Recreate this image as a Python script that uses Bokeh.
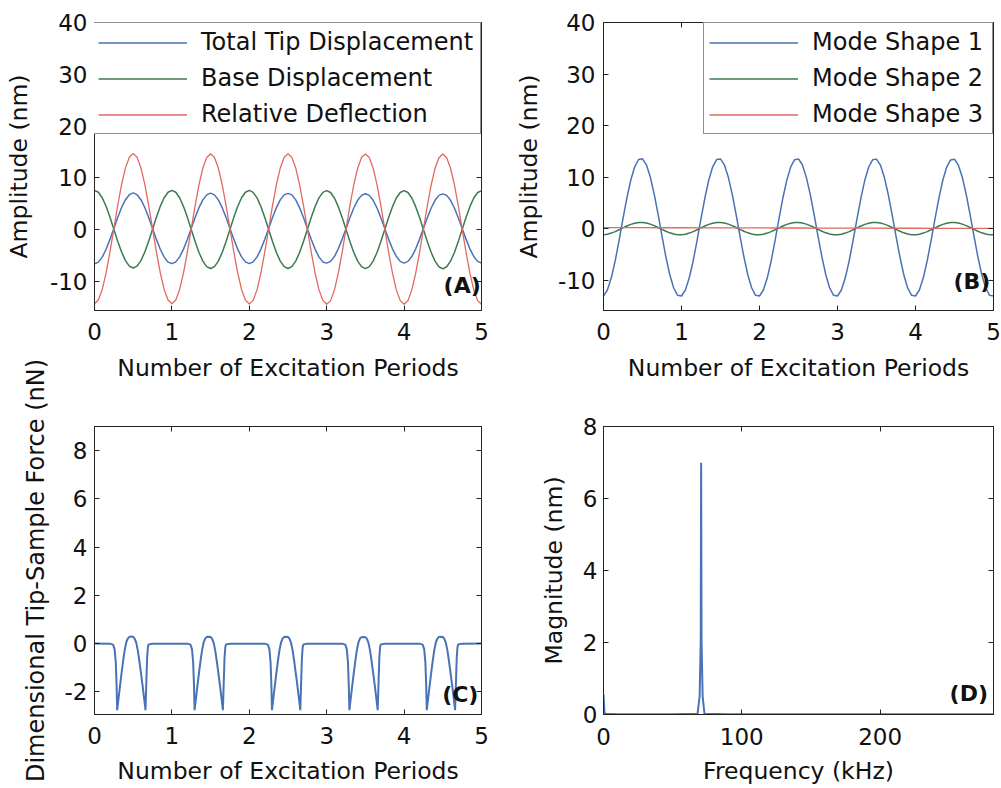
from bokeh.plotting import figure
from bokeh.models import Range1d, LinearAxis, FixedTicker, Legend, LegendItem, Label
from bokeh.layouts import column, row
from bokeh.embed import file_html
from bokeh.resources import INLINE

# ---------------- data ----------------
t_ab = [0.00, 0.05, 0.10, 0.15, 0.20, 0.25, 0.30, 0.35, 0.40, 0.45, 0.50, 0.55, 0.60, 0.65, 0.70, 0.75, 0.80, 0.85, 0.90, 0.95,
        1.00, 1.05, 1.10, 1.15, 1.20, 1.25, 1.30, 1.35, 1.40, 1.45, 1.50, 1.55, 1.60, 1.65, 1.70, 1.75, 1.80, 1.85, 1.90, 1.95,
        2.00, 2.05, 2.10, 2.15, 2.20, 2.25, 2.30, 2.35, 2.40, 2.45, 2.50, 2.55, 2.60, 2.65, 2.70, 2.75, 2.80, 2.85, 2.90, 2.95,
        3.00, 3.05, 3.10, 3.15, 3.20, 3.25, 3.30, 3.35, 3.40, 3.45, 3.50, 3.55, 3.60, 3.65, 3.70, 3.75, 3.80, 3.85, 3.90, 3.95,
        4.00, 4.05, 4.10, 4.15, 4.20, 4.25, 4.30, 4.35, 4.40, 4.45, 4.50, 4.55, 4.60, 4.65, 4.70, 4.75, 4.80, 4.85, 4.90, 4.95,
        5.00]

a_total_tip = [
    -6.60, -6.26, -5.29, -3.78, -1.87, 0.25, 2.37, 4.28, 5.79, 6.76, 7.10, 6.76, 5.79, 4.28, 2.37, 0.25, -1.87, -3.78, -5.29, -6.26,
    -6.55, -6.22, -5.25, -3.75, -1.85, 0.25, 2.35, 4.25, 5.75, 6.72, 7.05, 6.72, 5.75, 4.25, 2.35, 0.25, -1.85, -3.75, -5.25, -6.22,
    -6.55, -6.22, -5.25, -3.75, -1.85, 0.25, 2.35, 4.25, 5.75, 6.72, 7.02, 6.72, 5.75, 4.25, 2.35, 0.25, -1.85, -3.75, -5.25, -6.22,
    -6.45, -6.12, -5.17, -3.69, -1.82, 0.25, 2.32, 4.19, 5.67, 6.62, 6.95, 6.62, 5.67, 4.19, 2.32, 0.25, -1.82, -3.69, -5.17, -6.12,
    -6.45, -6.12, -5.17, -3.69, -1.82, 0.25, 2.32, 4.19, 5.67, 6.62, 6.92, 6.62, 5.67, 4.19, 2.32, 0.25, -1.82, -3.69, -5.17, -6.12,
    -6.45]
a_base = [
    7.60, 7.23, 6.17, 4.51, 2.42, 0.10, -2.22, -4.31, -5.97, -7.03, -7.40, -7.03, -5.97, -4.31, -2.22, 0.10, 2.42, 4.51, 6.17, 7.23,
    7.60, 7.23, 6.16, 4.49, 2.38, 0.05, -2.28, -4.39, -6.06, -7.13, -7.50, -7.13, -6.06, -4.39, -2.28, 0.05, 2.38, 4.49, 6.16, 7.23,
    7.58, 7.21, 6.14, 4.47, 2.36, 0.05, -2.28, -4.39, -6.06, -7.13, -7.50, -7.13, -6.06, -4.39, -2.28, 0.05, 2.36, 4.47, 6.14, 7.21,
    7.55, 7.18, 6.12, 4.45, 2.35, 0.05, -2.28, -4.39, -6.06, -7.13, -7.52, -7.13, -6.06, -4.39, -2.28, 0.05, 2.35, 4.45, 6.12, 7.18,
    7.55, 7.18, 6.12, 4.45, 2.35, 0.05, -2.30, -4.41, -6.08, -7.15, -7.55, -7.15, -6.08, -4.41, -2.30, 0.05, 2.35, 4.45, 6.12, 7.18,
    7.50]
a_relative = [
    -14.30, -13.59, -11.53, -8.33, -4.28, 0.20, 4.68, 8.73, 11.93, 13.99, 14.70, 13.99, 11.93, 8.73, 4.68, 0.20, -4.28, -8.33, -11.53, -13.59,
    -14.30, -13.59, -11.53, -8.33, -4.28, 0.20, 4.66, 8.71, 11.90, 13.95, 14.65, 13.95, 11.90, 8.71, 4.66, 0.20, -4.28, -8.33, -11.53, -13.59,
    -14.35, -13.64, -11.57, -8.36, -4.30, 0.18, 4.66, 8.71, 11.90, 13.95, 14.65, 13.95, 11.90, 8.71, 4.66, 0.18, -4.30, -8.36, -11.57, -13.64,
    -14.40, -13.69, -11.62, -8.40, -4.35, 0.15, 4.64, 8.69, 11.88, 13.93, 14.62, 13.93, 11.88, 8.69, 4.64, 0.15, -4.35, -8.40, -11.62, -13.69,
    -14.40, -13.69, -11.62, -8.40, -4.35, 0.15, 4.62, 8.67, 11.86, 13.90, 14.60, 13.90, 11.86, 8.67, 4.62, 0.15, -4.35, -8.40, -11.62, -13.69,
    -14.40]

b_mode1 = [
    -12.99, -11.83, -9.47, -6.16, -2.21, 1.98, 6.01, 9.48, 12.04, 13.46, 13.59, 12.43, 10.07, 6.76, 2.81, -1.38, -5.41, -8.88, -11.44, -12.86,
    -12.99, -11.83, -9.47, -6.16, -2.21, 1.98, 6.01, 9.48, 12.04, 13.44, 13.57, 12.41, 10.05, 6.74, 2.80, -1.38, -5.41, -8.88, -11.44, -12.86,
    -12.99, -11.83, -9.47, -6.16, -2.21, 1.98, 6.00, 9.46, 12.02, 13.42, 13.55, 12.40, 10.04, 6.74, 2.80, -1.38, -5.41, -8.88, -11.44, -12.86,
    -12.99, -11.83, -9.47, -6.16, -2.21, 1.97, 5.99, 9.45, 12.00, 13.40, 13.53, 12.38, 10.03, 6.73, 2.79, -1.38, -5.41, -8.88, -11.44, -12.86,
    -12.99, -11.83, -9.47, -6.16, -2.21, 1.97, 5.99, 9.44, 11.99, 13.38, 13.51, 12.36, 10.02, 6.72, 2.79, -1.38, -5.41, -8.88, -11.44, -12.86,
    -12.99]
b_mode2 = [
    -1.12, -1.02, -0.80, -0.51, -0.15, 0.22, 0.58, 0.89, 1.12, 1.25, 1.26, 1.16, 0.94, 0.65, 0.29, -0.08, -0.44, -0.75, -0.98, -1.11,
    -1.12, -1.02, -0.80, -0.51, -0.15, 0.22, 0.58, 0.89, 1.12, 1.25, 1.26, 1.16, 0.94, 0.65, 0.29, -0.08, -0.44, -0.75, -0.98, -1.11,
    -1.12, -1.02, -0.80, -0.51, -0.15, 0.22, 0.58, 0.89, 1.12, 1.25, 1.26, 1.16, 0.94, 0.65, 0.29, -0.08, -0.44, -0.75, -0.98, -1.11,
    -1.12, -1.02, -0.80, -0.51, -0.15, 0.22, 0.58, 0.89, 1.12, 1.25, 1.26, 1.16, 0.94, 0.65, 0.29, -0.08, -0.44, -0.75, -0.98, -1.11,
    -1.12, -1.02, -0.80, -0.51, -0.15, 0.22, 0.58, 0.89, 1.12, 1.25, 1.26, 1.16, 0.94, 0.65, 0.29, -0.08, -0.44, -0.75, -0.98, -1.11,
    -1.12]
t_mode3 = [0.00, 0.25, 0.50, 0.75, 1.00, 1.25, 1.50, 1.75, 2.00, 2.25, 2.50, 2.75, 3.00, 3.25, 3.50, 3.75, 4.00, 4.25, 4.50, 4.75, 5.00]
b_mode3 = [0.25, 0.24, 0.25, 0.23, 0.23, 0.21, 0.22, 0.20, 0.20, 0.18, 0.19, 0.17, 0.17, 0.15, 0.16, 0.14, 0.14, 0.12, 0.13, 0.11, 0.10]

c_t = [0.00,
       0.20, 0.24, 0.26, 0.275, 0.285, 0.293, 0.31, 0.33, 0.35, 0.37, 0.39, 0.41, 0.43, 0.45, 0.476, 0.50, 0.52, 0.54, 0.56, 0.58, 0.60, 0.62, 0.64, 0.659, 0.67, 0.68, 0.69, 0.70, 0.75,
       1.20, 1.24, 1.26, 1.275, 1.285, 1.293, 1.31, 1.33, 1.35, 1.37, 1.39, 1.41, 1.43, 1.45, 1.476, 1.50, 1.52, 1.54, 1.56, 1.58, 1.60, 1.62, 1.64, 1.659, 1.67, 1.68, 1.69, 1.70, 1.75,
       2.20, 2.24, 2.26, 2.275, 2.285, 2.293, 2.31, 2.33, 2.35, 2.37, 2.39, 2.41, 2.43, 2.45, 2.476, 2.50, 2.52, 2.54, 2.56, 2.58, 2.60, 2.62, 2.64, 2.659, 2.67, 2.68, 2.69, 2.70, 2.75,
       3.20, 3.24, 3.26, 3.275, 3.285, 3.293, 3.31, 3.33, 3.35, 3.37, 3.39, 3.41, 3.43, 3.45, 3.476, 3.50, 3.52, 3.54, 3.56, 3.58, 3.60, 3.62, 3.64, 3.659, 3.67, 3.68, 3.69, 3.70, 3.75,
       4.20, 4.24, 4.26, 4.275, 4.285, 4.293, 4.31, 4.33, 4.35, 4.37, 4.39, 4.41, 4.43, 4.45, 4.476, 4.50, 4.52, 4.54, 4.56, 4.58, 4.60, 4.62, 4.64, 4.659, 4.67, 4.68, 4.69, 4.70, 4.75,
       5.00]
c_force = [0.00,
           -0.01, -0.05, -0.25, -0.80, -1.70, -2.77, -2.30, -1.75, -1.22, -0.72, -0.28, 0.04, 0.20, 0.27, 0.29, 0.27, 0.19, 0.02, -0.30, -0.74, -1.22, -1.72, -2.25, -2.77, -1.60, -0.60, -0.15, -0.04, -0.01,
           -0.01, -0.05, -0.25, -0.80, -1.70, -2.77, -2.30, -1.75, -1.22, -0.72, -0.28, 0.04, 0.20, 0.27, 0.28, 0.27, 0.19, 0.02, -0.30, -0.74, -1.22, -1.72, -2.25, -2.77, -1.60, -0.60, -0.15, -0.04, -0.01,
           -0.01, -0.05, -0.25, -0.80, -1.70, -2.77, -2.30, -1.75, -1.22, -0.72, -0.28, 0.04, 0.20, 0.27, 0.28, 0.27, 0.19, 0.02, -0.30, -0.74, -1.22, -1.72, -2.25, -2.77, -1.60, -0.60, -0.15, -0.04, -0.01,
           -0.01, -0.05, -0.25, -0.80, -1.70, -2.77, -2.30, -1.75, -1.22, -0.72, -0.28, 0.04, 0.20, 0.26, 0.27, 0.26, 0.19, 0.02, -0.30, -0.74, -1.22, -1.72, -2.25, -2.77, -1.60, -0.60, -0.15, -0.04, -0.01,
           -0.01, -0.05, -0.25, -0.80, -1.70, -2.77, -2.30, -1.75, -1.22, -0.72, -0.28, 0.04, 0.20, 0.27, 0.28, 0.27, 0.19, 0.02, -0.30, -0.74, -1.22, -1.72, -2.25, -2.77, -1.60, -0.60, -0.15, -0.04, -0.01,
           0.00]

d_freq = [0.0, 0.7, 1.5, 10.0, 30.0, 50.0, 68.0, 69.5, 70.3, 70.6, 70.9, 71.7, 73.0, 90.0, 140.0, 200.0, 282.0]
d_mag = [0.56, 0.06, 0.02, 0.01, 0.01, 0.01, 0.02, 0.50, 2.00, 6.99, 2.00, 0.50, 0.02, 0.01, 0.01, 0.01, 0.01]

period_ticks = [0, 1, 2, 3, 4, 5]
amp_ticks = [-10, 0, 10, 20, 30, 40]
force_ticks = [-2, 0, 2, 4, 6, 8]
freq_ticks = [0, 100, 200]
mag_ticks = [0, 2, 4, 6, 8]

# ---------------- styling ----------------
FONT = "DejaVu Sans"
FS = "23px"
LBL = "23.5px"
BLUE = "#4a72b6"
GREEN = "#3d7a50"
RED = "#e06a60"
EDGE = "#222222"


def style_axis(ax, ticks):
    ax.ticker = FixedTicker(ticks=ticks)
    ax.major_label_overrides = {t: ("-" + str(-t)) for t in ticks if t < 0}
    ax.axis_line_color = EDGE
    ax.major_tick_line_color = EDGE
    ax.major_tick_in = 5
    ax.major_tick_out = 0
    ax.minor_tick_line_color = None
    ax.major_label_text_font = FONT
    ax.major_label_text_font_size = FS
    ax.major_label_text_color = "#111111"
    ax.axis_label_text_font = FONT
    ax.axis_label_text_font_size = LBL
    ax.axis_label_text_font_style = "normal"
    ax.axis_label_text_color = "#111111"


def make_fig(w, h, bl, br, bt, bb, xr, yr, xt, yt, xlab, ylab,
             xstand=11, ystand=14, xls=12, yls=7, ylab_size=LBL):
    p = figure(width=w, height=h, x_range=Range1d(*xr), y_range=Range1d(*yr),
               output_backend="svg", toolbar_location=None,
               min_border_left=bl, min_border_right=br,
               min_border_top=bt, min_border_bottom=bb)
    p.title.visible = False
    p.xgrid.visible = False
    p.ygrid.visible = False
    p.outline_line_color = EDGE
    p.border_fill_color = None
    bottom = p.below[0]
    left = p.left[0]
    top = LinearAxis()
    right = LinearAxis()
    p.add_layout(top, "above")
    p.add_layout(right, "right")
    style_axis(bottom, xt)
    style_axis(top, xt)
    style_axis(left, yt)
    style_axis(right, yt)
    for ax in (top, right):
        ax.major_label_text_color = None
        ax.major_label_text_font_size = "1px"
        ax.major_label_standoff = 0
    bottom.axis_label = xlab
    bottom.axis_label_standoff = xstand
    bottom.major_label_standoff = xls
    left.axis_label = ylab
    left.axis_label_standoff = ystand
    left.major_label_standoff = yls
    left.axis_label_text_font_size = ylab_size
    return p


def add_legend(p, items, label_width):
    leg = Legend(items=items, location="top_right", margin=0, padding=5, spacing=8,
                 glyph_width=89, glyph_height=27, label_height=27, label_standoff=14,
                 label_width=label_width, label_text_font=FONT, label_text_font_size="24px",
                 label_text_color="#111111", border_line_color=EDGE, border_line_width=1,
                 background_fill_color="white", background_fill_alpha=1.0)
    p.add_layout(leg)


def add_tag(p, x, y, txt):
    p.add_layout(Label(x=x, y=y, text=txt, text_align="right", text_baseline="middle",
                       text_font=FONT, text_font_size="22px", text_font_style="bold",
                       text_color="#111111"))


# ---- (A)
pA = make_fig(500, 394, 94, 19, 18, 84, (0, 5), (-15.6, 40), period_ticks, amp_ticks,
              "Number of Excitation Periods", "Amplitude (nm)", ystand=14)
rA1 = pA.line(t_ab, a_total_tip, line_color=BLUE, line_width=1.5)
rA2 = pA.line(t_ab, a_base, line_color=GREEN, line_width=1.5)
rA3 = pA.line(t_ab, a_relative, line_color=RED, line_width=1.3)
add_legend(pA, [LegendItem(label="Total Tip Displacement", renderers=[rA1]),
                LegendItem(label="Base Displacement", renderers=[rA2]),
                LegendItem(label="Relative Deflection", renderers=[rA3])], 274)
add_tag(pA, 4.99, -10.7, "(A)")

# ---- (B)
pB = make_fig(501, 394, 103, 8, 22, 82, (0, 5), (-15.8, 40), period_ticks, amp_ticks,
              "Number of Excitation Periods", "Amplitude (nm)", ystand=12, yls=8)
rB1 = pB.line(t_ab, b_mode1, line_color=BLUE, line_width=1.5)
rB2 = pB.line(t_ab, b_mode2, line_color=GREEN, line_width=1.5)
rB3 = pB.line(t_mode3, b_mode3, line_color=RED, line_width=1.3)
add_legend(pB, [LegendItem(label="Mode Shape 1", renderers=[rB1]),
                LegendItem(label="Mode Shape 2", renderers=[rB2]),
                LegendItem(label="Mode Shape 3", renderers=[rB3])], 175)
add_tag(pB, 4.96, -10.2, "(B)")

# ---- (C)
pC = make_fig(500, 430, 94, 19, 66, 74, (0, 5), (-2.95, 9), period_ticks, force_ticks,
              "Number of Excitation Periods", "Dimensional Tip-Sample Force (nN)",
              xstand=10, ystand=12, ylab_size="24px")
pC.line(c_t, c_force, line_color=BLUE, line_width=2)
add_tag(pC, 4.96, -2.11, "(C)")

# ---- (D)
pD = make_fig(501, 430, 103, 8, 68, 73, (0, 282), (0, 8), freq_ticks, mag_ticks,
              "Frequency (kHz)", "Magnitude (nm)", xstand=9, ystand=12, xls=13, yls=6)
pD.line(d_freq, d_mag, line_color=BLUE, line_width=2)
add_tag(pD, 278, 0.58, "(D)")

top_row = row(pA, pB, styles={"position": "relative", "z-index": "0"})
bottom_row = row(pC, pD, margin=(-36, 0, 0, 0),
                 styles={"position": "relative", "z-index": "5"})
layout = column(top_row, bottom_row)

with open("out.html", "w") as f:
    f.write(file_html(layout, INLINE))
